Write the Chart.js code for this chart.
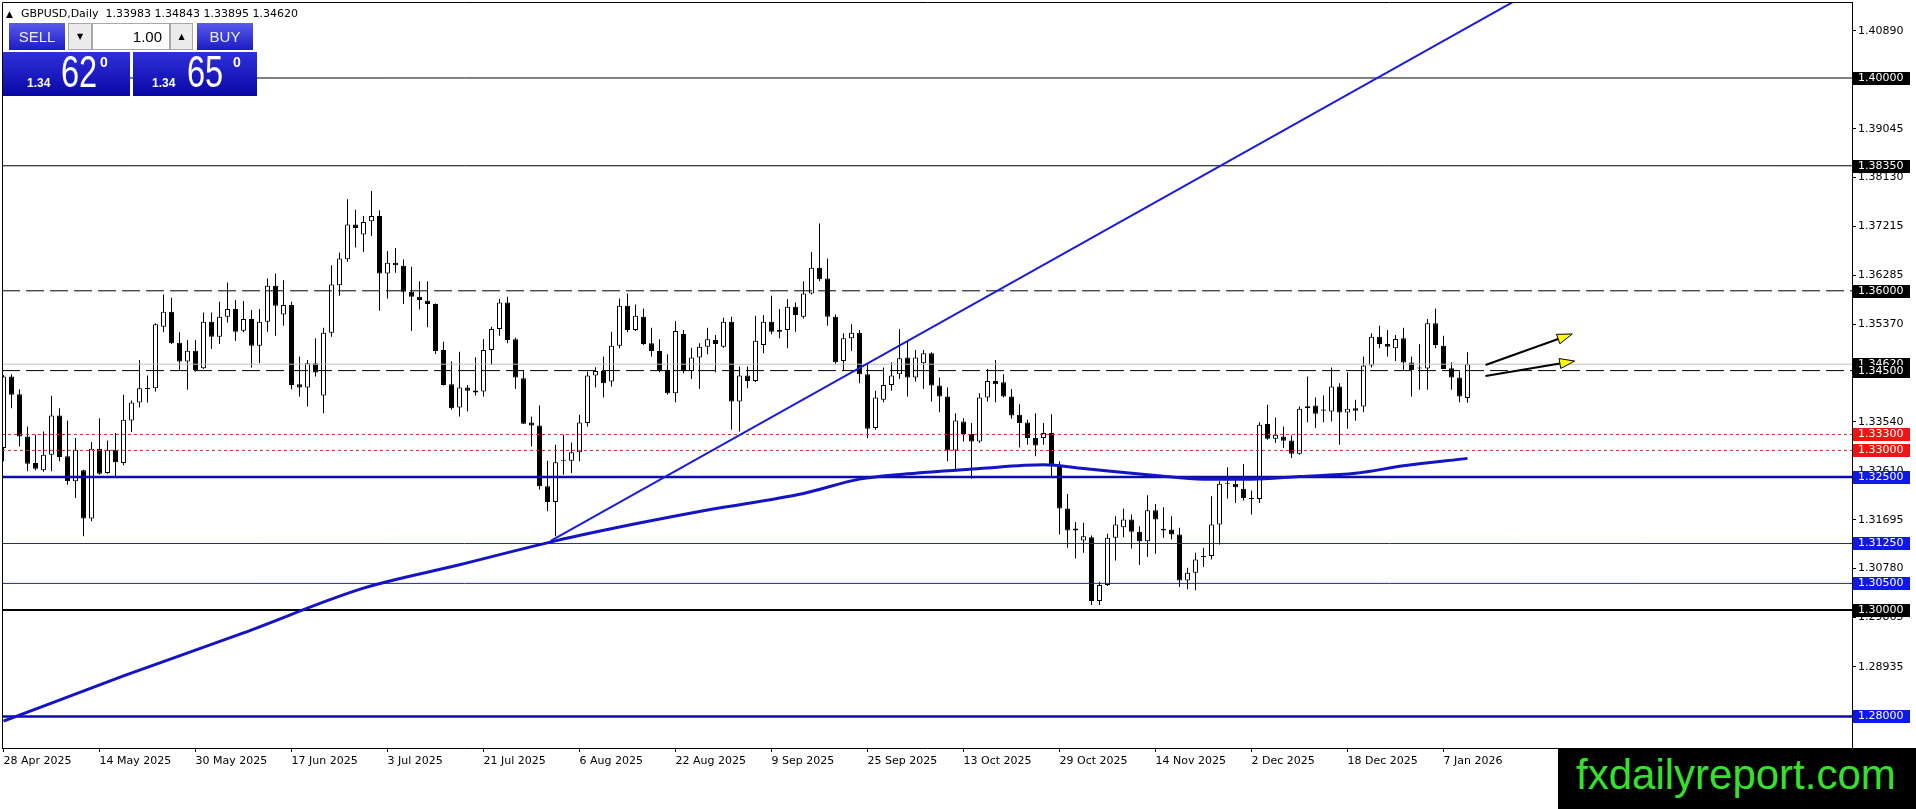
<!DOCTYPE html>
<html>
<head>
<meta charset="utf-8">
<title>GBPUSD Daily</title>
<script src="https://cdn.jsdelivr.net/npm/chart.js@4.4.1/dist/chart.umd.min.js"></script>
<style>
  body { margin: 0; background: #fff; overflow: hidden; }
  #wrap { position: relative; width: 1916px; height: 809px; }
  #chart { display: block; }
  .abs { position: absolute; box-sizing: border-box; }
  #header { left: 6px; top: 7px; font: 11px "DejaVu Sans"; line-height: 14px; white-space: nowrap; color: #000; }
  #header .tri { font-size: 9px; margin-right: 8px; }
  .trade { top: 23px; height: 27px; width: 56px; background: linear-gradient(#5a5aec, #1c1cc2);
           color: #eef; font: 15px "Liberation Sans"; display: flex; align-items: center; justify-content: center; }
  .step { top: 23px; height: 27px; background: #ececec; border: 1px solid #a8a8a8;
          font: 8px "DejaVu Sans"; display: flex; align-items: center; justify-content: center; }
  .lot { top: 23px; height: 27px; left: 92px; width: 78px; background: #fff; border: 1px solid #a8a8a8;
         font: 15px "Liberation Sans"; text-align: right; padding-right: 7px; line-height: 25px; }
  .quote { top: 52px; height: 44px; background: linear-gradient(#3030da, #0808a6); color: #fff; }
  .quote .small { position: absolute; top: 25px; font: bold 12px "Liberation Sans"; line-height: 12px; }
  .quote .big { position: absolute; top: -2px; font: 44px "Liberation Sans"; line-height: 44px;
                transform: scaleX(0.74); transform-origin: left; }
  .quote .sup { position: absolute; top: 3px; font: bold 14px "Liberation Sans"; line-height: 14px; }
  #mark { left: 1558px; top: 748px; width: 358px; height: 61px; background: #000; }
  #mark span { position: absolute; left: 18px; top: 6px; font: 42px "Liberation Sans"; line-height: 42px;
               color: #36e02c; white-space: nowrap; }
</style>
</head>
<body>
<div id="wrap">
  <canvas id="chart" width="1916" height="809"></canvas>

  <div id="header" class="abs"><span class="tri">&#9650;</span>GBPUSD,Daily&nbsp; 1.33983 1.34843 1.33895 1.34620</div>
  <div class="abs trade" style="left:9px">SELL</div>
  <div class="abs step" style="left:68px;width:24px">&#9660;</div>
  <div class="abs lot">1.00</div>
  <div class="abs step" style="left:170px;width:23px">&#9650;</div>
  <div class="abs trade" style="left:197px">BUY</div>
  <div class="abs quote" style="left:3px;width:127px">
    <span class="small" style="left:24px">1.34</span>
    <span class="big" style="left:58px">62</span>
    <span class="sup" style="left:97px">0</span>
  </div>
  <div class="abs quote" style="left:133px;width:124px">
    <span class="small" style="left:19px">1.34</span>
    <span class="big" style="left:54px">65</span>
    <span class="sup" style="left:100px">0</span>
  </div>

  <div id="mark" class="abs"><span>fxdailyreport.com</span></div>
</div>

<script>
// one label every 12 daily bars, first bar = 28 Apr 2025
const labelStep = 12;
const dateLabels = [
    "28 Apr 2025", "14 May 2025", "30 May 2025", "17 Jun 2025", "3 Jul 2025", "21 Jul 2025",
    "6 Aug 2025", "22 Aug 2025", "9 Sep 2025", "25 Sep 2025", "13 Oct 2025", "29 Oct 2025",
    "14 Nov 2025", "2 Dec 2025", "18 Dec 2025", "7 Jan 2026",
];

const opens = [
    1.33044, 1.34388, 1.34056, 1.33262, 1.32763, 1.32625, 1.32919, 1.33656, 1.32888, 1.32419,
    1.32625, 1.31719, 1.33031, 1.32575, 1.33012, 1.32763, 1.33563, 1.33900, 1.34169, 1.34169,
    1.35325, 1.35606, 1.35025, 1.34669, 1.34875, 1.34544, 1.35419, 1.35138, 1.35513, 1.35656,
    1.35250, 1.35469, 1.34969, 1.35419, 1.36094, 1.35556, 1.35731, 1.34244, 1.34181, 1.34638,
    1.34031, 1.35213, 1.36106, 1.36594, 1.37244, 1.37056, 1.37306, 1.37406, 1.36325, 1.36525,
    1.36469, 1.35981, 1.35888, 1.35813, 1.35750, 1.34888, 1.34244, 1.33806, 1.34181, 1.34125,
    1.34106, 1.34888, 1.35281, 1.35781, 1.35088, 1.34356, 1.33525, 1.33469, 1.32325, 1.32031,
    1.32806, 1.32806, 1.32963, 1.33513, 1.34406, 1.34494, 1.34294, 1.34969, 1.35719, 1.35263,
    1.35513, 1.35013, 1.34869, 1.34513, 1.34075, 1.35188, 1.34494, 1.34744, 1.34950, 1.35075,
    1.34950, 1.35419, 1.33919, 1.34406, 1.34306, 1.34981, 1.35419, 1.35231, 1.35263, 1.35700,
    1.35513, 1.35950, 1.36431, 1.36231, 1.35513, 1.34681, 1.35106, 1.35213, 1.34431, 1.33419,
    1.33950, 1.34231, 1.34431, 1.34744, 1.34369, 1.34638, 1.34825, 1.34219, 1.34013, 1.33000,
    1.33544, 1.33306, 1.33169, 1.33994, 1.34306, 1.34281, 1.34013, 1.33669, 1.33525, 1.33231,
    1.33231, 1.33325, 1.32731, 1.31906, 1.31531, 1.31306, 1.31369, 1.30169, 1.30469, 1.31356,
    1.31556, 1.31700, 1.31469, 1.31294, 1.31875, 1.31525, 1.31513, 1.31419, 1.30556, 1.30700,
    1.30994, 1.31013, 1.31606, 1.32375, 1.32375, 1.32281, 1.32106, 1.32088, 1.33494, 1.33219,
    1.33263, 1.33188, 1.32938, 1.33794, 1.33844, 1.33769, 1.33731, 1.34200, 1.33713, 1.33794,
    1.33825, 1.34594, 1.35138, 1.35000, 1.34919, 1.35106, 1.34650, 1.34556, 1.34538, 1.35388,
    1.34969, 1.34544, 1.34369, 1.33983,
];
const highs = [
    1.34419, 1.34431, 1.34150, 1.33450, 1.33294, 1.33356, 1.34025, 1.33794, 1.33562, 1.33231,
    1.32638, 1.33156, 1.33606, 1.33188, 1.33325, 1.34044, 1.33938, 1.34700, 1.34406, 1.35388,
    1.35931, 1.35869, 1.35219, 1.35075, 1.35075, 1.35594, 1.35594, 1.35794, 1.36156, 1.35825,
    1.35806, 1.35638, 1.35656, 1.36231, 1.36325, 1.36200, 1.35794, 1.34763, 1.34700, 1.35106,
    1.35306, 1.36481, 1.36719, 1.37719, 1.37525, 1.37406, 1.37875, 1.37513, 1.36750, 1.36806,
    1.36588, 1.36450, 1.36181, 1.36181, 1.35763, 1.35044, 1.34669, 1.34856, 1.34231, 1.34750,
    1.35094, 1.35325, 1.35844, 1.35888, 1.35119, 1.34513, 1.33638, 1.33844, 1.32806, 1.33106,
    1.33294, 1.33150, 1.33669, 1.34481, 1.34563, 1.34763, 1.35231, 1.35856, 1.35950, 1.35744,
    1.35669, 1.35306, 1.35088, 1.34806, 1.35431, 1.35263, 1.34931, 1.35013, 1.35306, 1.35169,
    1.35494, 1.35513, 1.34575, 1.34575, 1.35531, 1.35544, 1.35906, 1.35656, 1.35844, 1.35781,
    1.36181, 1.36731, 1.37263, 1.36606, 1.35556, 1.35200, 1.35369, 1.35263, 1.34638, 1.34119,
    1.34556, 1.34656, 1.35281, 1.35075, 1.34888, 1.34888, 1.34844, 1.34369, 1.34181, 1.33700,
    1.33606, 1.33513, 1.34075, 1.34531, 1.34700, 1.34431, 1.34156, 1.33869, 1.33575, 1.33700,
    1.33513, 1.33681, 1.32794, 1.32181, 1.31656, 1.31638, 1.31400, 1.30531, 1.31431, 1.31763,
    1.31906, 1.31794, 1.31575, 1.32156, 1.31994, 1.31931, 1.31763, 1.31544, 1.30794, 1.31075,
    1.31169, 1.32138, 1.32419, 1.32681, 1.32450, 1.32744, 1.32244, 1.33531, 1.33856, 1.33619,
    1.33450, 1.33281, 1.33825, 1.34388, 1.33994, 1.34031, 1.34556, 1.34263, 1.34469, 1.33950,
    1.34763, 1.35200, 1.35344, 1.35263, 1.35169, 1.35306, 1.34763, 1.34994, 1.35469, 1.35669,
    1.35156, 1.34656, 1.34481, 1.34843,
];
const lows = [
    1.32794, 1.33794, 1.33075, 1.32606, 1.32625, 1.32600, 1.32606, 1.32794, 1.32356, 1.32106,
    1.31387, 1.31669, 1.32544, 1.32562, 1.32494, 1.32719, 1.33344, 1.33806, 1.33900, 1.34106,
    1.35219, 1.35000, 1.34500, 1.34138, 1.34481, 1.34531, 1.34906, 1.35000, 1.35406, 1.35056,
    1.35219, 1.34556, 1.34638, 1.35231, 1.35156, 1.35344, 1.34150, 1.34013, 1.33825, 1.34388,
    1.33700, 1.35138, 1.35906, 1.36544, 1.36813, 1.36731, 1.37031, 1.35625, 1.35856, 1.36338,
    1.35750, 1.35244, 1.35650, 1.35313, 1.34813, 1.34219, 1.33763, 1.33638, 1.33731, 1.34031,
    1.34013, 1.34606, 1.35156, 1.35013, 1.34156, 1.33494, 1.33075, 1.32263, 1.31856, 1.31388,
    1.32544, 1.32575, 1.32794, 1.33450, 1.34181, 1.33994, 1.34200, 1.34919, 1.35219, 1.35244,
    1.34981, 1.34763, 1.34469, 1.34044, 1.33906, 1.34450, 1.34344, 1.34156, 1.34806, 1.34469,
    1.34931, 1.33388, 1.33356, 1.34169, 1.34281, 1.34825, 1.35181, 1.35106, 1.34919, 1.35231,
    1.35481, 1.35931, 1.36181, 1.35344, 1.34619, 1.34494, 1.34869, 1.34263, 1.33231, 1.33388,
    1.33906, 1.34119, 1.34344, 1.34013, 1.34294, 1.34156, 1.33919, 1.33719, 1.32794, 1.32606,
    1.33169, 1.32469, 1.33138, 1.33919, 1.33906, 1.33994, 1.33594, 1.33056, 1.33106, 1.32888,
    1.33106, 1.32481, 1.31419, 1.31169, 1.30969, 1.31075, 1.30094, 1.30094, 1.30450, 1.30931,
    1.31369, 1.31156, 1.30844, 1.30994, 1.31056, 1.31356, 1.31325, 1.30431, 1.30388, 1.30369,
    1.30806, 1.30950, 1.31231, 1.32094, 1.32013, 1.32056, 1.31794, 1.32013, 1.33200, 1.33138,
    1.33044, 1.32856, 1.32919, 1.33531, 1.33419, 1.33531, 1.33544, 1.33106, 1.33406, 1.33556,
    1.33719, 1.34556, 1.34919, 1.34763, 1.34681, 1.34500, 1.34013, 1.34138, 1.34138, 1.34919,
    1.34531, 1.34138, 1.33906, 1.33895,
];
const closes = [
    1.34388, 1.34044, 1.33262, 1.32750, 1.32656, 1.32919, 1.33656, 1.32875, 1.32419, 1.33012,
    1.31719, 1.33031, 1.32562, 1.33012, 1.32775, 1.33575, 1.33900, 1.34169, 1.34156, 1.35369,
    1.35606, 1.35013, 1.34669, 1.34875, 1.34513, 1.35419, 1.35138, 1.35513, 1.35656, 1.35231,
    1.35469, 1.34969, 1.35419, 1.36094, 1.35719, 1.35731, 1.34231, 1.34181, 1.34638, 1.34463,
    1.35213, 1.36119, 1.36606, 1.37244, 1.37181, 1.37294, 1.37406, 1.36325, 1.36525, 1.36481,
    1.35981, 1.35888, 1.35825, 1.35750, 1.34869, 1.34231, 1.33794, 1.34181, 1.34119, 1.34088,
    1.34888, 1.35281, 1.35781, 1.35075, 1.34369, 1.33500, 1.33469, 1.32325, 1.32031, 1.32775,
    1.32825, 1.32963, 1.33525, 1.34406, 1.34494, 1.34263, 1.34969, 1.35719, 1.35263, 1.35531,
    1.35000, 1.34869, 1.34494, 1.34075, 1.35244, 1.34494, 1.34744, 1.34950, 1.35088, 1.35000,
    1.35419, 1.33919, 1.34406, 1.34306, 1.35063, 1.35419, 1.35231, 1.35263, 1.35700, 1.35544,
    1.35950, 1.36431, 1.36219, 1.35513, 1.34656, 1.35106, 1.35213, 1.34431, 1.33406, 1.33994,
    1.34231, 1.34406, 1.34731, 1.34369, 1.34744, 1.34825, 1.34219, 1.34013, 1.33000, 1.33563,
    1.33306, 1.33169, 1.33994, 1.34306, 1.34244, 1.34013, 1.33656, 1.33513, 1.33231, 1.33094,
    1.33325, 1.32731, 1.31906, 1.31494, 1.31494, 1.31388, 1.30169, 1.30469, 1.31356, 1.31606,
    1.31700, 1.31469, 1.31294, 1.31875, 1.31700, 1.31494, 1.31419, 1.30556, 1.30700, 1.30950,
    1.31013, 1.31606, 1.32375, 1.32388, 1.32306, 1.32106, 1.32088, 1.33481, 1.33219, 1.33294,
    1.33181, 1.32938, 1.33781, 1.33831, 1.33688, 1.33744, 1.34200, 1.33713, 1.33781, 1.33744,
    1.34594, 1.35138, 1.35000, 1.34950, 1.35094, 1.34650, 1.34513, 1.34538, 1.35388, 1.34981,
    1.34531, 1.34369, 1.34013, 1.34620,
];

// price scale labels as the terminal prints them
const yTicks = [1.40890, 1.39045, 1.38130, 1.37215, 1.36285, 1.35370, 1.33540,
                1.32610, 1.31695, 1.30780, 1.29865, 1.28935];

// moving average, read at a few bars
const maIndex = [0, 15, 30, 45, 57, 69, 79, 88, 100, 107, 113, 122, 130, 135, 144, 150, 156, 162, 169, 175, 183];
const maValue = [1.2791, 1.2876, 1.2957, 1.3041, 1.3085, 1.3130, 1.3162, 1.3188, 1.3219, 1.3246, 1.3256,
                 1.3266, 1.3273, 1.3266, 1.3253, 1.3246, 1.3246, 1.3251, 1.3257, 1.3271, 1.3285];

// trend line from the late July low
const trendIndex = [68.4, 190];
const trendValue = [1.3130, 1.4154];

// horizontal levels
const blackLevels = [1.40000, 1.38350];
const dashedLevels = [1.36000, 1.34500];
const redLevels = [1.33300, 1.33000];
const blueThickLevels = [1.32500, 1.28000];
const blueThinLevels = [1.31250, 1.30500];
const supportLevels = [1.30000];
const bidPrice = 1.34620;

// the two forecast arrows
const arrowFromIndex = [185.25, 185.25];
const arrowFromValue = [1.34605, 1.34398];
const arrowToIndex = [196.1, 196.4];
const arrowToValue = [1.35188, 1.34680];

const X_MIN = -0.1875;
const X_MAX = 231.0625;

const colors = {
    black: "#000000",
    red: "#d42a2a",
    blueThick: "#0c0ca6",
    blueThin: "#2222a6",
    trend: "#1c1cd8",
    ma: "#1414c4",
    bid: "#c0c0c0",
    boxRed: "#f01414",
    boxBlue: "#1018e8",
};

Chart.defaults.font.family = "DejaVu Sans";
Chart.defaults.font.size = 11;
Chart.defaults.color = "#000";

function levelLine(value, color, width, dash) {
    return {
        type: "line",
        data: [{ x: X_MIN, y: value }, { x: X_MAX, y: value }],
        borderColor: color,
        borderWidth: width,
        borderDash: dash || [],
        pointRadius: 0,
        order: 0,
        clip: 0,
    };
}

const levelDatasets = [
    levelLine(bidPrice, colors.bid, 1),
    ...blackLevels.map((v) => levelLine(v, colors.black, 1)),
    ...dashedLevels.map((v) => levelLine(v, colors.black, 1, [18, 6])),
    ...redLevels.map((v) => levelLine(v, colors.red, 1, [3, 3])),
    ...blueThickLevels.map((v) => levelLine(v, colors.blueThick, 2.5)),
    ...blueThinLevels.map((v) => levelLine(v, colors.blueThin, 1)),
    ...supportLevels.map((v) => levelLine(v, colors.black, 2)),
];

const labelBoxes = [
    ...[bidPrice].map((v) => [v, colors.black]),
    ...blackLevels.map((v) => [v, colors.black]),
    ...dashedLevels.map((v) => [v, colors.black]),
    ...redLevels.map((v) => [v, colors.boxRed]),
    ...blueThickLevels.map((v) => [v, colors.boxBlue]),
    ...blueThinLevels.map((v) => [v, colors.boxBlue]),
    ...supportLevels.map((v) => [v, colors.black]),
];

const framePlugin = {
    id: "frame",
    afterDraw(chart) {
        const { ctx, chartArea: a } = chart;
        ctx.save();
        ctx.strokeStyle = "#000";
        ctx.lineWidth = 1;
        ctx.beginPath();
        ctx.moveTo(a.left + 0.5, a.bottom);
        ctx.lineTo(a.left + 0.5, a.top + 0.5);
        ctx.lineTo(a.right, a.top + 0.5);
        ctx.stroke();
        ctx.restore();
    },
};

const priceBoxPlugin = {
    id: "priceBoxes",
    afterDraw(chart) {
        const { ctx } = chart;
        const yScale = chart.scales.y;
        const left = yScale.left + 1;
        ctx.save();
        ctx.font = "11px 'DejaVu Sans'";
        ctx.textBaseline = "middle";
        ctx.textAlign = "left";
        labelBoxes.forEach(([value, fill]) => {
            const py = Math.round(yScale.getPixelForValue(value));
            ctx.fillStyle = fill;
            ctx.fillRect(left, py - 6, 57, 13);
            ctx.fillStyle = "#fff";
            ctx.fillText(value.toFixed(5), left + 5, py + 0.5);
        });
        ctx.restore();
    },
};

const arrowPlugin = {
    id: "arrows",
    afterDatasetsDraw(chart) {
        const { ctx } = chart;
        const xs = chart.scales.x;
        const ys = chart.scales.y;
        const headLen = 15;
        const headHalf = 5;
        ctx.save();
        arrowFromIndex.forEach((_, k) => {
            const x0 = xs.getPixelForValue(arrowFromIndex[k]);
            const y0 = ys.getPixelForValue(arrowFromValue[k]);
            const x1 = xs.getPixelForValue(arrowToIndex[k]);
            const y1 = ys.getPixelForValue(arrowToValue[k]);
            const ang = Math.atan2(y1 - y0, x1 - x0);
            const bx = x1 - headLen * Math.cos(ang);
            const by = y1 - headLen * Math.sin(ang);
            ctx.strokeStyle = "#000";
            ctx.lineWidth = 2;
            ctx.beginPath();
            ctx.moveTo(x0, y0);
            ctx.lineTo(bx, by);
            ctx.stroke();
            ctx.beginPath();
            ctx.moveTo(x1, y1);
            ctx.lineTo(bx + headHalf * Math.sin(ang), by - headHalf * Math.cos(ang));
            ctx.lineTo(bx - headHalf * Math.sin(ang), by + headHalf * Math.cos(ang));
            ctx.closePath();
            ctx.fillStyle = "#ffff00";
            ctx.fill();
            ctx.lineWidth = 1;
            ctx.stroke();
        });
        ctx.restore();
    },
};

const bodyData = opens.map((o, i) => ({ x: i, y: [o, closes[i]] }));
const wickData = lows.map((l, i) => ({ x: i, y: [l, highs[i]] }));

new Chart(document.getElementById("chart"), {
    type: "bar",
    data: {
        datasets: [
            {
                type: "bar",
                data: wickData,
                backgroundColor: "#000",
                barThickness: 1,
                grouped: false,
                inflateAmount: 0,
                order: 3,
            },
            {
                type: "bar",
                data: bodyData,
                backgroundColor: opens.map((o, i) => (closes[i] >= o ? "#ffffff" : "#000000")),
                borderColor: "#000",
                borderWidth: 1,
                borderSkipped: false,
                barThickness: 5,
                minBarLength: 1,
                grouped: false,
                inflateAmount: 0,
                order: 2,
            },
            {
                type: "line",
                data: maIndex.map((x, k) => ({ x, y: maValue[k] })),
                borderColor: colors.ma,
                borderWidth: 3,
                cubicInterpolationMode: "monotone",
                pointRadius: 0,
                order: 0,
            },
            {
                type: "line",
                data: trendIndex.map((x, k) => ({ x, y: trendValue[k] })),
                borderColor: colors.trend,
                borderWidth: 2,
                pointRadius: 0,
                order: 0,
                clip: 0,
            },
            ...levelDatasets,
        ],
    },
    options: {
        responsive: false,
        animation: false,
        devicePixelRatio: 1,
        events: [],
        layout: { padding: { left: 2, top: 2, right: 0, bottom: 0 } },
        plugins: { legend: { display: false }, tooltip: { enabled: false } },
        scales: {
            x: {
                type: "linear",
                min: X_MIN,
                max: X_MAX,
                offset: false,
                grid: { drawOnChartArea: false, drawTicks: true, tickLength: 4, color: "#000", offset: false },
                border: { display: true, color: "#000", width: 1 },
                afterBuildTicks(scale) {
                    scale.ticks = dateLabels.map((_, k) => ({ value: k * labelStep }));
                },
                afterFit(scale) {
                    scale.height = 61;
                    scale.paddingLeft = 0;
                    scale.paddingRight = 0;
                },
                ticks: {
                    autoSkip: false,
                    maxRotation: 0,
                    align: "start",
                    padding: 3,
                    color: "#000",
                    callback: (v) => dateLabels[Math.round(v / labelStep)],
                },
            },
            y: {
                type: "linear",
                position: "right",
                min: 1.274060,
                max: 1.4142857,
                beginAtZero: false,
                grid: { drawOnChartArea: false, drawTicks: true, tickLength: 4, color: "#000" },
                border: { display: true, color: "#000", width: 1 },
                afterBuildTicks(scale) {
                    scale.ticks = yTicks.map((v) => ({ value: v }));
                },
                afterFit(scale) {
                    scale.width = 64;
                    scale.paddingTop = 0;
                    scale.paddingBottom = 0;
                },
                ticks: {
                    padding: 2,
                    color: "#000",
                    callback: (v) => v.toFixed(5),
                },
            },
        },
    },
    plugins: [framePlugin, arrowPlugin, priceBoxPlugin],
});
</script>
</body>
</html>
